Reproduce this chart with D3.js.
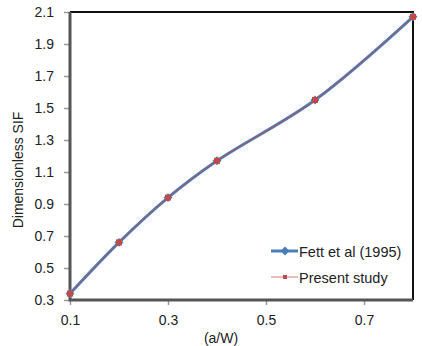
<!DOCTYPE html>
<html>
<head>
<meta charset="utf-8">
<script src="https://cdn.jsdelivr.net/npm/d3@7"></script>
<style>
  body { margin: 0; background: #fff; }
  text { font-family: "Liberation Sans", Arial, sans-serif; }
</style>
</head>
<body>
<div id="chart"></div>
<script>
// data
const ratios = [0.1, 0.2, 0.3, 0.4, 0.6, 0.8];
const fettValues = [0.34, 0.66, 0.94, 1.17, 1.55, 2.07];
const presentValues = [0.34, 0.66, 0.94, 1.17, 1.55, 2.07];
const xTicks = [0.1, 0.3, 0.5, 0.7];
const yTicks = [0.3, 0.5, 0.7, 0.9, 1.1, 1.3, 1.5, 1.7, 1.9, 2.1];
const seriesNames = ["Fett et al (1995)", "Present study"];

const width = 422, height = 346;
const plotLeft = 70, plotRight = 413, plotTop = 12, plotBottom = 300;
const fontSize = 14;

const svg = d3.select("#chart")
    .append("svg")
    .attr("width", width)
    .attr("height", height);

const x = d3.scaleLinear().domain([0.1, 0.8]).range([plotLeft, plotRight]);
const y = d3.scaleLinear().domain([0.3, 2.1]).range([plotBottom, plotTop]);

// top and right border (black)
svg.append("path")
    .attr("d", `M${plotLeft},${plotTop}H${plotRight}V${plotBottom}`)
    .attr("fill", "none")
    .attr("stroke", "#111")
    .attr("stroke-width", 2);

// y axis
const yAxis = svg.append("g")
    .attr("transform", `translate(${plotLeft},0)`)
    .call(d3.axisLeft(y).tickValues(yTicks).tickFormat(d3.format(".1f")).tickSize(6).tickPadding(10));
yAxis.select(".domain").remove();
yAxis.selectAll("line").attr("stroke", "#999").attr("stroke-width", 1.5);
yAxis.selectAll("text").attr("font-size", fontSize).attr("fill", "#222");

// x axis
const xAxis = svg.append("g")
    .attr("transform", `translate(0,${plotBottom})`)
    .call(d3.axisBottom(x).tickValues(xTicks).tickFormat(d3.format(".1f")).tickSize(5).tickPadding(10));
xAxis.select(".domain").remove();
xAxis.selectAll("line").attr("stroke", "#999").attr("stroke-width", 1.5);
xAxis.selectAll("text").attr("font-size", fontSize).attr("fill", "#222");

// left and bottom axis lines (thick gray)
svg.append("path")
    .attr("d", `M${plotLeft},${plotTop}V${plotBottom}H${plotRight}`)
    .attr("fill", "none")
    .attr("stroke", "#555")
    .attr("stroke-width", 3);

// axis titles
svg.append("text")
    .attr("transform", `translate(23,170) rotate(-90)`)
    .attr("text-anchor", "middle")
    .attr("font-size", fontSize)
    .attr("fill", "#222")
    .text("Dimensionless SIF");

svg.append("text")
    .attr("x", 221)
    .attr("y", 343)
    .attr("text-anchor", "middle")
    .attr("font-size", fontSize)
    .attr("fill", "#222")
    .text("(a/W)");

const line = d3.line()
    .x(d => x(d[0]))
    .y(d => y(d[1]))
    .curve(d3.curveCatmullRom.alpha(0.5));

const fett = ratios.map((r, i) => [r, fettValues[i]]);
const present = ratios.map((r, i) => [r, presentValues[i]]);

// Fett et al series
svg.append("path")
    .datum(fett)
    .attr("d", line)
    .attr("fill", "none")
    .attr("stroke", "#4a7ebb")
    .attr("stroke-width", 3);

const diamond = d3.symbol().type(d3.symbolSquare).size(40);
svg.selectAll(".fett")
    .data(fett)
    .enter()
    .append("path")
    .attr("class", "fett")
    .attr("d", diamond)
    .attr("transform", d => `translate(${x(d[0])},${y(d[1])}) rotate(45)`)
    .attr("fill", "#4a7ebb");

// Present study series
svg.append("path")
    .datum(present)
    .attr("d", line)
    .attr("fill", "none")
    .attr("stroke", "#be4b48")
    .attr("stroke-width", 1);

svg.selectAll(".present")
    .data(present)
    .enter()
    .append("rect")
    .attr("class", "present")
    .attr("x", d => x(d[0]) - 3)
    .attr("y", d => y(d[1]) - 3)
    .attr("width", 6)
    .attr("height", 6)
    .attr("fill", "#be4b48");

// legend
const legend = svg.append("g").attr("transform", "translate(271,251)");

legend.append("line")
    .attr("x1", 0).attr("x2", 27).attr("y1", 0).attr("y2", 0)
    .attr("stroke", "#4a7ebb").attr("stroke-width", 3);
legend.append("path")
    .attr("d", diamond)
    .attr("transform", "translate(14,0) rotate(45)")
    .attr("fill", "#4a7ebb");
legend.append("text")
    .attr("x", 28).attr("y", 6)
    .attr("font-size", 14.5)
    .attr("fill", "#222")
    .text(seriesNames[0]);

legend.append("line")
    .attr("x1", 0).attr("x2", 27).attr("y1", 26).attr("y2", 26)
    .attr("stroke", "#d77b78").attr("stroke-width", 1);
legend.append("rect")
    .attr("x", 12).attr("y", 24).attr("width", 4).attr("height", 4)
    .attr("fill", "#be4b48");
legend.append("text")
    .attr("x", 28).attr("y", 32)
    .attr("font-size", 14.5)
    .attr("fill", "#222")
    .text(seriesNames[1]);
</script>
</body>
</html>
